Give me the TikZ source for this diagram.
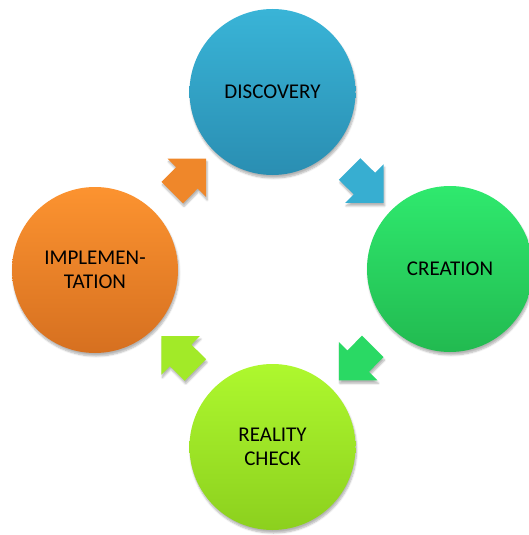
\documentclass[tikz,border=0pt]{standalone}
\usepackage{fontspec}
\setmainfont{Carlito}
\usetikzlibrary{shapes.arrows,shadows.blur}

\definecolor{discTop}{RGB}{57,180,215}
\definecolor{discBot}{RGB}{42,142,178}
\definecolor{creaTop}{RGB}{47,233,110}
\definecolor{creaBot}{RGB}{34,186,80}
\definecolor{realTop}{RGB}{174,248,46}
\definecolor{realBot}{RGB}{140,208,30}
\definecolor{implTop}{RGB}{252,147,48}
\definecolor{implBot}{RGB}{214,112,32}

\tikzstyle{phase} = [circle,minimum size=166pt,inner sep=0pt,align=center,
  font=\fontsize{21}{24}\selectfont,
  blur shadow={shadow xshift=1pt,shadow yshift=-3pt,shadow opacity=30,shadow blur steps=6}]
\tikzstyle{cyclearrow} = [single arrow,minimum height=48pt,inner xsep=0pt,inner ysep=15pt,
  single arrow head extend=12pt,sloped,allow upside down,
  blur shadow={shadow xshift=1pt,shadow yshift=-3pt,shadow opacity=30,shadow blur steps=6}]

\begin{document}
\begin{tikzpicture}[x=1pt,y=-1pt]
		\useasboundingbox (0,0) rectangle (528,535);
		\node[phase,top color=discTop,bottom color=discBot] (disc) at (272.5,92) {DISCOVERY};
		\node[phase,top color=creaTop,bottom color=creaBot] (crea) at (450,269) {CREATION};
		\node[phase,top color=realTop,bottom color=realBot] (real) at (272.5,447) {REALITY\\CHECK};
		\node[phase,top color=implTop,bottom color=implBot] (impl) at (95,270) {IMPLEMEN-\\TATION};
		\path (disc) -- node[cyclearrow,fill=discTop!85!discBot] (a1) {} (crea);
		\path (crea) -- node[cyclearrow,fill=creaTop!65!creaBot] (a2) {} (real);
		\path (real) -- node[cyclearrow,fill=realTop!65!realBot] (a3) {} (impl);
		\path (impl) -- node[cyclearrow,fill=implTop!65!implBot] (a4) {} (disc);
\end{tikzpicture}
\end{document}
